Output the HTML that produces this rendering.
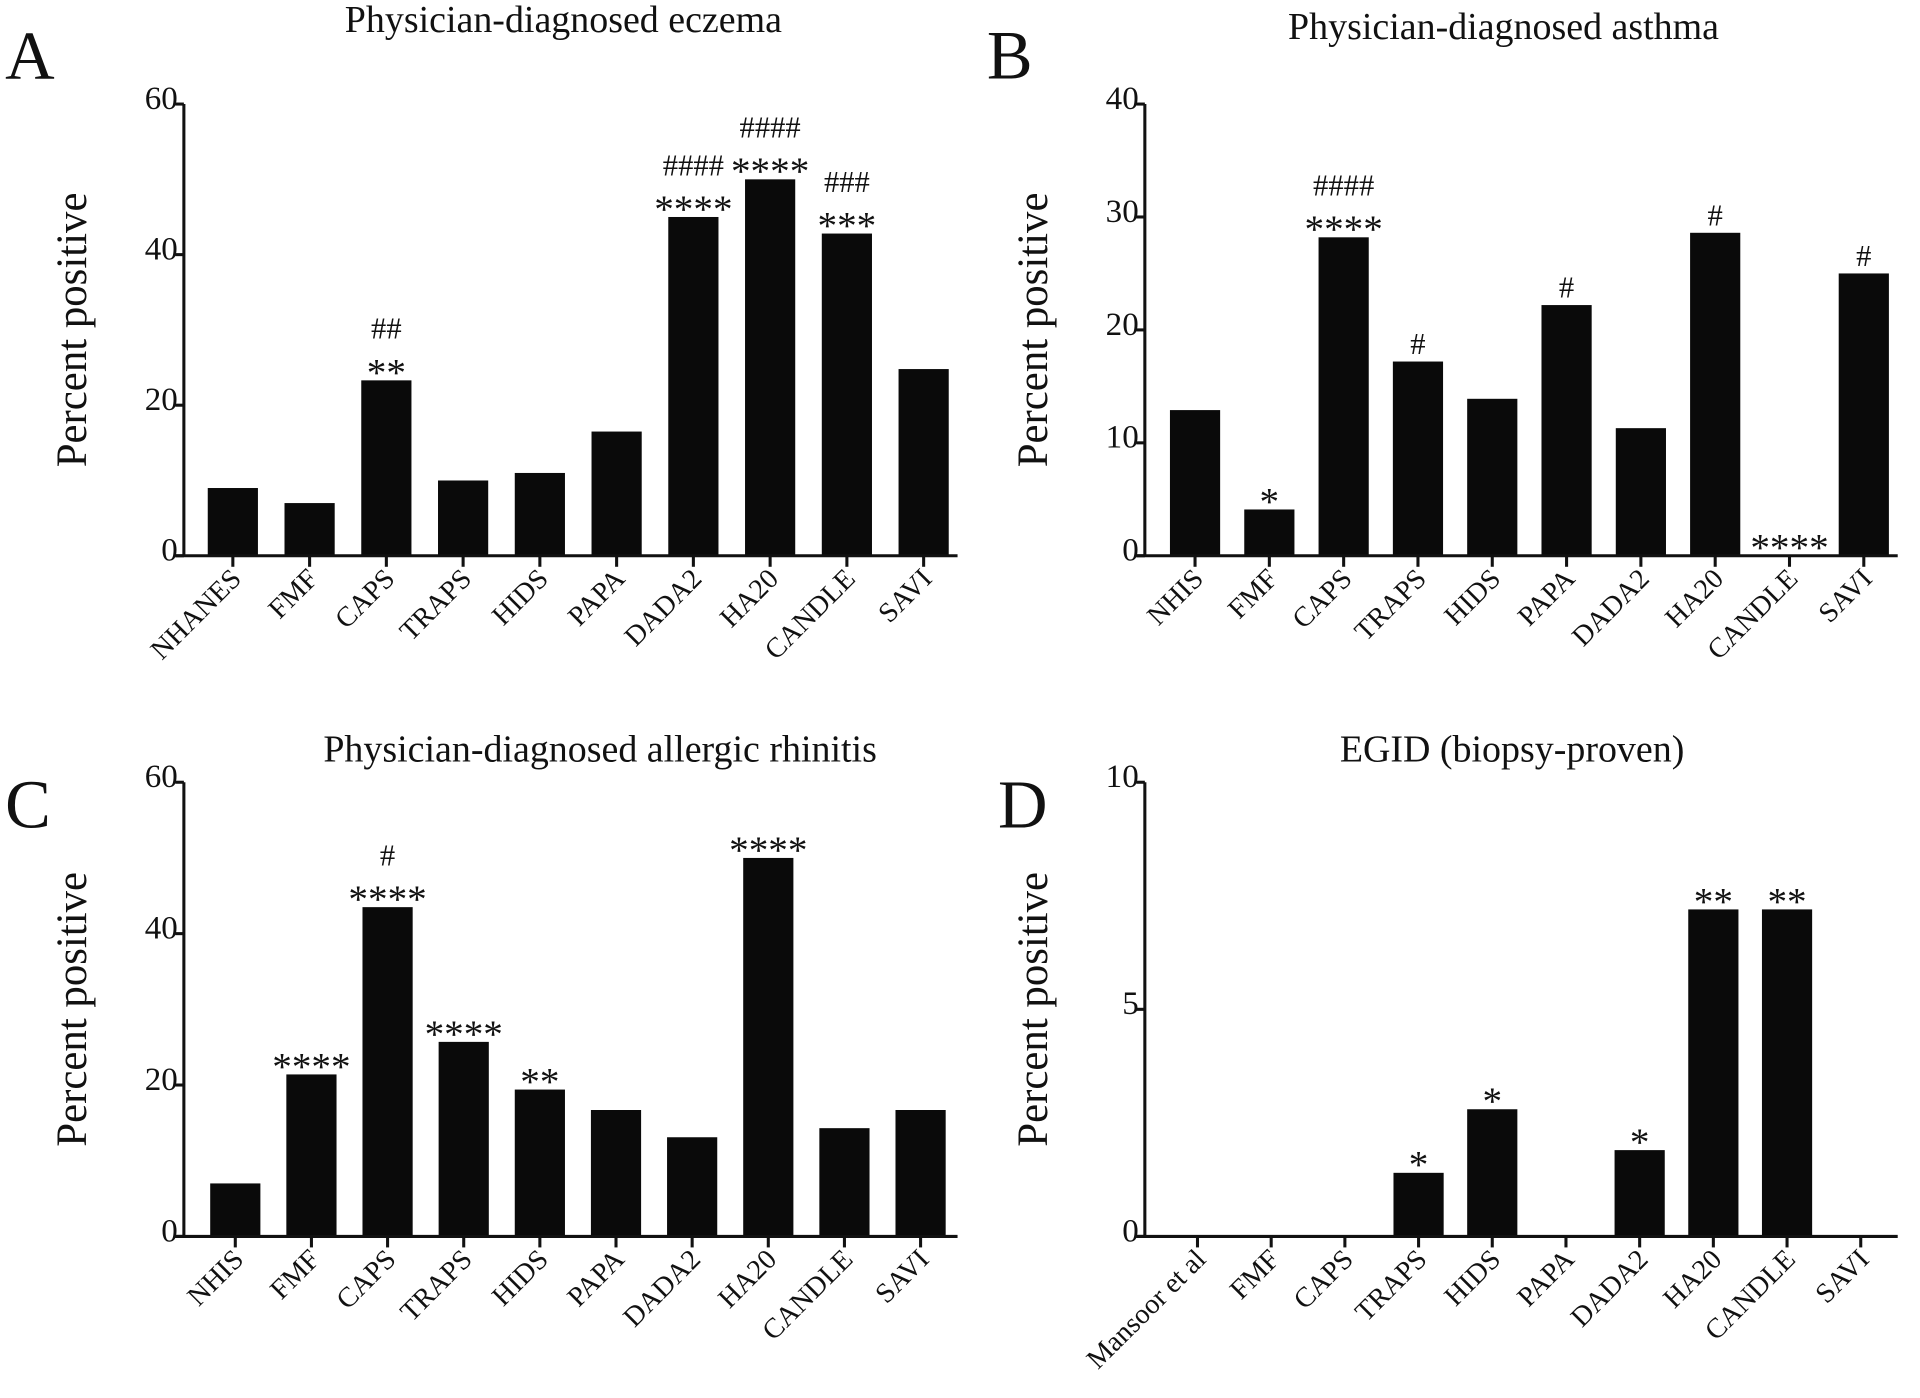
<!DOCTYPE html>
<html><head><meta charset="utf-8"><style>
html,body{margin:0;padding:0;background:#fff;}
svg{display:block;}
text{font-family:"Liberation Serif",serif;fill:#111;}
</style></head><body>
<svg id="fig" width="1920" height="1398" viewBox="0 0 1568 1142" xmlns="http://www.w3.org/2000/svg"></svg>
<script>
const catsA = ["NHANES","FMF","CAPS","TRAPS","HIDS","PAPA","DADA2","HA20","CANDLE","SAVI"];
const valsA = [9,7,23.3,10,11,16.5,45,50,42.8,24.8];
const starsA = ["","","**","","","","****","****","***",""];
const hashA = ["","","##","","","","####","####","###",""];
const ticksA = [0,20,40,60];

const catsB = ["NHIS","FMF","CAPS","TRAPS","HIDS","PAPA","DADA2","HA20","CANDLE","SAVI"];
const valsB = [12.9,4.1,28.2,17.2,13.9,22.2,11.3,28.6,0,25];
const starsB = ["","*","****","","","","","","****",""];
const hashB = ["","","####","#","","#","","#","","#"];
const ticksB = [0,10,20,30,40];

const catsC = ["NHIS","FMF","CAPS","TRAPS","HIDS","PAPA","DADA2","HA20","CANDLE","SAVI"];
const valsC = [7,21.4,43.5,25.7,19.4,16.7,13.1,50,14.3,16.7];
const starsC = ["","****","****","****","**","","","****","",""];
const hashC = ["","","#","","","","","","",""];
const ticksC = [0,20,40,60];

const catsD = ["Mansoor et al","FMF","CAPS","TRAPS","HIDS","PAPA","DADA2","HA20","CANDLE","SAVI"];
const valsD = [0,0,0,1.4,2.8,0,1.9,7.2,7.2,0];
const starsD = ["","","","*","*","","*","**","**",""];
const hashD = ["","","","","","","","","",""];
const ticksD = [0,5,10];

const NS="http://www.w3.org/2000/svg";
const svg=document.getElementById('fig');
function mk(tag,attrs,parent){const e=document.createElementNS(NS,tag);for(const k in attrs)e.setAttribute(k,attrs[k]);(parent||svg).appendChild(e);return e;}

function panel(o){
  const g=mk('g',{});
  
  
  const yMax=o.ticks[o.ticks.length-1];
  const y=v=>o.y0-(v/yMax)*(o.y0-o.yTop);
  const x=i=>o.x0+o.first+i*o.step;
  const t=mk('text',{x:o.titleX,y:o.titleY,'font-size':31,'text-anchor':'middle'},g);
  t.textContent=o.title;
  
  
  const L=mk('text',{x:o.lx,y:o.ly,'font-size':56},g);
  L.textContent=o.letter;
  
  
  const yl=mk('text',{x:0,y:0,'font-size':35,'text-anchor':'middle',transform:`translate(${o.x0-80},${(o.y0+o.yTop)/2}) rotate(-90)`},g);
  yl.textContent='Percent positive';
  
  
  o.vals.forEach((v,i)=>{
    if(v>0){
      const r=mk('rect',{x:x(i)-20.5,y:y(v),width:41,height:o.y0-y(v),fill:'#0a0a0a'},g);
      
      
    }
    let top=y(v)-8;
    if(o.stars[i]){
      const s=mk('text',{x:x(i),y:top+12,'font-size':32,'text-anchor':'middle','font-family':'DejaVu Sans, sans-serif'},g);
      s.textContent=o.stars[i];
      
      
      top-=28;
    }
    if(o.hash[i]){
      const h=mk('text',{x:x(i),y:top+2,'font-size':25,'text-anchor':'middle'},g);
      h.textContent=o.hash[i];
      
      
    }
  });
  const ya=mk('line',{x1:o.x0,y1:o.yTop,x2:o.x0,y2:o.y0+1,stroke:'#111','stroke-width':2.5},g);
  
  
  const xa=mk('line',{x1:o.x0-7,y1:o.y0,x2:o.x0+o.len,y2:o.y0,stroke:'#111','stroke-width':2.5},g);
  
  
  o.ticks.forEach(tv=>{
    mk('line',{x1:o.x0-7,y1:y(tv),x2:o.x0,y2:y(tv),stroke:'#111','stroke-width':2.5},g);
    const tl=mk('text',{x:o.x0-5,y:y(tv)+4,'font-size':27,'text-anchor':'end'},g);
    tl.textContent=tv;
    
    
  });
  o.cats.forEach((c,i)=>{
    mk('line',{x1:x(i),y1:o.y0,x2:x(i),y2:o.y0+9,stroke:'#111','stroke-width':2.5},g);
    const cl=mk('text',{x:0,y:0,'font-size':23,'text-anchor':'end',transform:`translate(${x(i)+8},${o.y0+20}) rotate(-45)`},g);
    cl.textContent=c;
    
    
  });
}
panel({letter:'A',title:'Physician-diagnosed eczema',titleX:460,titleY:26,lx:4,ly:64,x0:150,y0:454,yTop:85,first:40,step:62.7,len:632,cats:catsA,vals:valsA,stars:starsA,hash:hashA,ticks:ticksA});
panel({letter:'B',title:'Physician-diagnosed asthma',titleX:1228,titleY:32,lx:806,ly:64,x0:935,y0:454,yTop:85,first:41,step:60.7,len:615,cats:catsB,vals:valsB,stars:starsB,hash:hashB,ticks:ticksB});
panel({letter:'C',title:'Physician-diagnosed allergic rhinitis',titleX:490,titleY:622,lx:4,ly:676,x0:150,y0:1010,yTop:639,first:42,step:62.2,len:632,cats:catsC,vals:valsC,stars:starsC,hash:hashC,ticks:ticksC});
panel({letter:'D',title:'EGID (biopsy-proven)',titleX:1235,titleY:622,lx:815,ly:676,x0:935,y0:1010,yTop:639,first:43,step:60.2,len:615,cats:catsD,vals:valsD,stars:starsD,hash:hashD,ticks:ticksD});
</script>
</body></html>
